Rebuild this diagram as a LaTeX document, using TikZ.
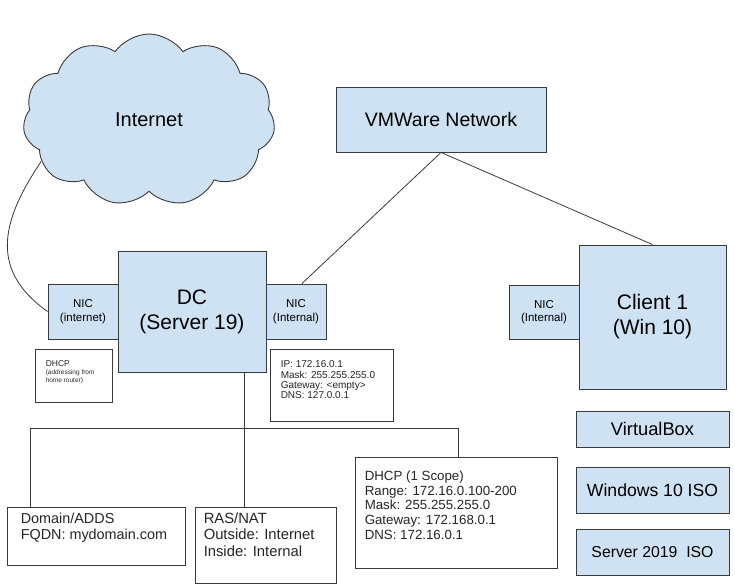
\documentclass[tikz,border=0pt]{standalone}
\usepackage{fontspec}
\setmainfont{Liberation Sans}
\usepackage{xcolor}
\usetikzlibrary{shapes.symbols}
\usetikzlibrary{positioning}

\definecolor{boxblue}{HTML}{CFE2F3}
\definecolor{edgegray}{HTML}{3A3A3A}

\begin{document}
\begin{tikzpicture}[x=1pt,y=-1pt,
    bluebox/.style={draw=edgegray,fill=boxblue,line width=0.9pt,inner sep=0pt,align=center},
    whitebox/.style={draw=edgegray,fill=white,line width=0.9pt,inner sep=0pt},
    boxtext/.style={inner sep=0pt,anchor=north west,align=left,text=black!85},
    link/.style={draw=edgegray,line width=0.8pt}]

  \useasboundingbox (0,0) rectangle (735,586);

  % the cloud
  \node[cloud,cloud puffs=11,cloud puff arc=110,aspect=1.45,draw=edgegray,fill=boxblue,
        line width=0.9pt,inner sep=0pt,minimum width=252pt,minimum height=172pt,
        font=\fontsize{20}{24}\selectfont] (inet) at (149,120) {Internet};

  % VMWare network
  \node[bluebox,minimum width=210pt,minimum height=65pt,font=\fontsize{19.5}{23}\selectfont] (vmware) at (441,119.5) {VMWare Network};

  % the DC and its two NICs
  \node[bluebox,minimum width=70pt,minimum height=55pt,font=\fontsize{11.5}{13.5}\selectfont] (nicext) at (83,311.5) {NIC\\(internet)};
  \node[bluebox,minimum width=60pt,minimum height=55pt,font=\fontsize{11.5}{13.5}\selectfont] (nicint) at (296,311.5) {NIC\\(Internal)};
  \node[bluebox,minimum width=148pt,minimum height=121pt,font=\fontsize{21}{25}\selectfont] (dc) at (192,311.5) {DC\\(Server 19)};

  % client side
  \node[bluebox,minimum width=70pt,minimum height=54pt,font=\fontsize{11.5}{13.5}\selectfont] (nicclient) at (544,312) {NIC\\(Internal)};
  \node[bluebox,minimum width=147pt,minimum height=144pt,font=\fontsize{21}{25}\selectfont] (client) at (652.5,317) {Client 1\\(Win 10)};

  % the three boxes on the right
  \node[bluebox,minimum width=153pt,minimum height=36pt,font=\fontsize{18.3}{22}\selectfont] (vbox) at (652.5,429) {VirtualBox};
  \node[bluebox,minimum width=153pt,minimum height=46pt,font=\fontsize{17.6}{21}\selectfont] (winiso) at (652.5,490) {Windows 10 ISO};
  \node[bluebox,minimum width=153pt,minimum height=46pt,font=\fontsize{15.8}{19}\selectfont] (srviso) at (652.5,552) {Server 2019\ \ ISO};

  % white info boxes
  \node[whitebox,minimum width=77pt,minimum height=53pt] (dhcpext) at (73.5,375.5) {};
  \node[boxtext,font=\fontsize{8.5}{10}\selectfont] (dhcptxt) at ([shift={(11,12)}]dhcpext.north west) {DHCP};
  \node[boxtext,font=\fontsize{6.5}{7.5}\selectfont,below=3pt of dhcptxt.south west,anchor=north west] (dhcpsub) {(addressing from\\home router)};

  \node[whitebox,minimum width=123pt,minimum height=72pt] (ipbox) at (331.5,385) {};
  \node[boxtext,font=\fontsize{10}{10.3}\selectfont] (iptxt) at ([shift={(11,12)}]ipbox.north west)
    {IP: 172.16.0.1\\Mask: 255.255.255.0\\Gateway: <empty>\\DNS: 127.0.0.1};

  \node[whitebox,minimum width=178pt,minimum height=58pt] (domain) at (96,536) {};
  \node[boxtext,font=\fontsize{14.4}{16}\selectfont] (domaintxt) at ([shift={(14,6)}]domain.north west)
    {Domain/ADDS\\FQDN: mydomain.com};

  \node[whitebox,minimum width=141pt,minimum height=76pt] (ras) at (265.5,545) {};
  \node[boxtext,font=\fontsize{14.8}{16.5}\selectfont] (rastxt) at ([shift={(9,6)}]ras.north west)
    {RAS/NAT\\Outside: Internet\\Inside: Internal};

  \node[whitebox,minimum width=202pt,minimum height=111pt] (scope) at (456,512.5) {};
  \node[boxtext,font=\fontsize{13.3}{14.8}\selectfont] (scopetxt) at ([shift={(10,14)}]scope.north west)
    {DHCP (1 Scope)\\Range: 172.16.0.100-200\\Mask: 255.255.255.0\\Gateway: 172.168.0.1\\DNS: 172.16.0.1};

  % connectors
  \draw[link] (inet.201) .. controls (-2,225) and (-8,272) .. (nicext.west);
  \draw[link] (vmware.south) -- (nicint.78);
  \draw[link] (vmware.south) -- (client.north);

  \coordinate (busleft)  at (30,428);
  \coordinate (busmid)   at (244,428);
  \coordinate (busright) at (458,428);
  \draw[link] (domain.north -| busleft) -- (busleft) -- (busright) -- (scope.north -| busright);
  \draw[link] (dc.south -| busmid) -- (ras.north -| busmid);

\end{tikzpicture}
\end{document}
